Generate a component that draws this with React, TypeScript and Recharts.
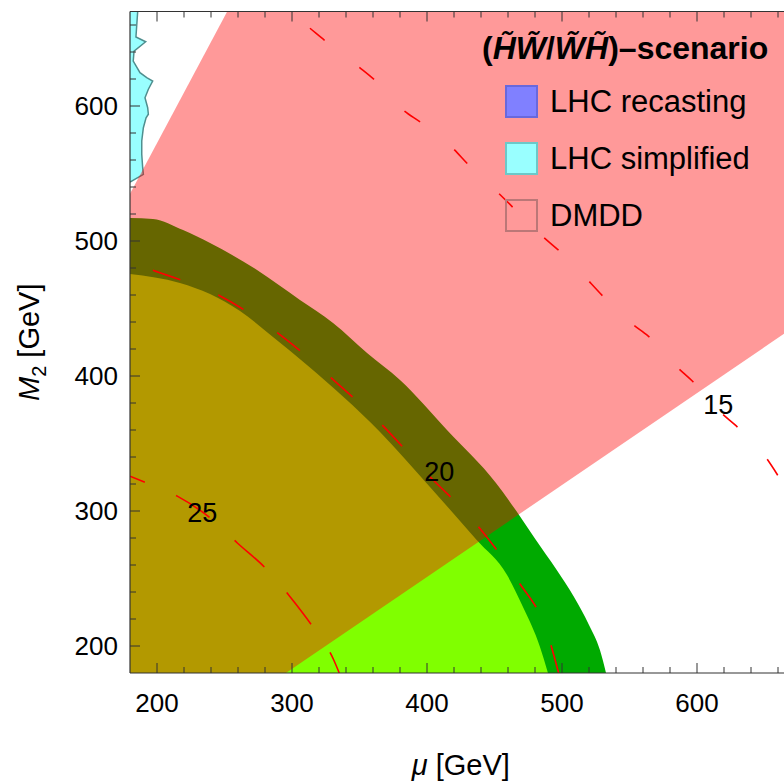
import {
  Area,
  ComposedChart,
  Line,
  ReferenceDot,
  XAxis,
  YAxis,
} from "recharts";

const FONT = '"Liberation Sans", Arial, Helvetica, sans-serif';
const FRAME = "#333333";
const RED = "#ff0000";

const AXIS_TICKS = [200, 220, 240, 260, 280, 300, 320, 340, 360, 380, 400, 420, 440, 460, 480, 500, 520, 540, 560, 580, 600, 620, 640, 660];

// outer edge of the dark green band (mu, M2 in GeV)
const OUTER_MU = [180, 197, 219.3, 239.3, 274.1, 305.9, 330.4, 355.6, 380, 414.8, 451.1, 466.7, 480.7, 495.6, 508.9, 520, 528.1, 532.6];
const OUTER_M2 = [517, 516.3, 508.1, 498.5, 478.5, 456.3, 439.3, 417, 397, 360, 320.7, 299.3, 278.5, 257, 236.3, 215.6, 197, 180];

// inner edge (bright green region)
const INNER_MU = [180, 217, 239.3, 261.5, 285.9, 311.1, 365.2, 402.2, 436.8, 459.3, 471.1, 483.7, 489.6];
const INNER_M2 = [475.6, 468.9, 460.7, 448.1, 428.9, 408.1, 358.5, 317.8, 278.5, 252.6, 228.9, 199.3, 180];

// DMDD wedge
const DMDD_MU = [180, 252, 295.5, 670];
const DMDD_LO = [180, 180, 180, 435];
const DMDD_HI = [535, 670, 670, 670];

// LHC simplified strip (edge mu as a function of M2)
const CYAN_M2 = [543.7, 549.4, 554.3, 564.2, 574.1, 583.9, 591.3, 593.9, 598.7, 606.1, 612.4, 618.5, 621, 624.7, 633.3, 640.7, 647.6, 651.1, 670];
const CYAN_MU = [180, 189.9, 189.4, 188.7, 188.7, 189.9, 191.9, 193.6, 193.1, 191.1, 193.6, 196.8, 192.4, 187.4, 182.4, 183, 191.6, 184.4, 185.7];

// dashed contours
const C25_MU = [180, 190.6, 215, 239.5, 259.5, 281, 298.7, 316.5, 330.6, 335];
const C25_M2 = [325.8, 321.5, 311, 294.8, 276.3, 257, 236.3, 212.6, 190.4, 180];
const C20_MU = [180, 196.5, 245.4, 288.4, 329.9, 366.1, 401.7, 436.5, 466.9, 489.1, 497.5];
const C20_M2 = [484.6, 478.5, 460, 432.6, 397.8, 364.4, 325.9, 290.4, 248.9, 209.6, 180];
const C15_MU = [298, 313.3, 324.1, 349.6, 361, 383.2, 395, 419.5, 429.9, 452.8, 486.1, 496.5, 552, 563.9, 586, 596.5, 618.8, 629.1, 651.3, 664, 670];
const C15_M2 = [670, 657.6, 648.7, 628.9, 619.5, 596.3, 588.1, 568.4, 557.3, 535.6, 503, 494, 438.5, 429.6, 405.9, 396.3, 371.9, 363, 339.3, 320, 311];

const CONTOUR_LABELS = [
  { mu: 233.6, m2: 299.3, text: "25" },
  { mu: 409.1, m2: 329.6, text: "20" },
  { mu: 615.8, m2: 379.3, text: "15" },
];

const LEGEND_ITEMS = [
  { name: "LHC recasting", fill: "#8080ff", border: "#6868dc" },
  { name: "LHC simplified", fill: "#99ffff", border: "#6cc8c8" },
  { name: "DMDD", fill: "transparent", border: "#bb7777" },
];

const pts = (mu: number[], m2: number[]) => mu.map((m, i) => ({ mu: m, v: m2[i] }));

const outerData = pts(OUTER_MU, OUTER_M2);
const innerData = pts(INNER_MU, INNER_M2);
const dmddData = DMDD_MU.map((m, i) => ({ mu: m, range: [DMDD_LO[i], DMDD_HI[i]] }));
const cyanData = CYAN_M2.map((m, i) => ({ m2: m, mu: CYAN_MU[i] }));

const W = 800;
const H = 784;

function BottomTick(props: any) {
  const { x, y, payload } = props;
  const major = payload.value % 100 === 0;
  return (
    <g>
      <line x1={x} x2={x} y1={y} y2={y - (major ? 10 : 6)} stroke={FRAME} strokeWidth={1} />
      {major && (
        <text x={x} y={y + 39} textAnchor="middle" fontSize={26} fontFamily={FONT} fill="#000">
          {payload.value}
        </text>
      )}
    </g>
  );
}

function TopTick(props: any) {
  const { x, y, payload } = props;
  const major = payload.value % 100 === 0;
  return <line x1={x} x2={x} y1={y} y2={y + (major ? 10 : 6)} stroke={FRAME} strokeWidth={1} />;
}

function LeftTick(props: any) {
  const { x, y, payload } = props;
  const major = payload.value % 100 === 0;
  return (
    <g>
      <line x1={x} x2={x + (major ? 10 : 6)} y1={y} y2={y} stroke={FRAME} strokeWidth={1} />
      {major && (
        <text x={x - 12} y={y + 9} textAnchor="end" fontSize={26} fontFamily={FONT} fill="#000">
          {payload.value}
        </text>
      )}
    </g>
  );
}

function XTitle(props: any) {
  const vb = props.viewBox;
  return (
    <text x={vb.x + vb.width / 2} y={vb.y + 102} textAnchor="middle" fontSize={29} fontFamily={FONT} fill="#000">
      <tspan fontStyle="italic">μ</tspan>
      <tspan> [GeV]</tspan>
    </text>
  );
}

function YTitle(props: any) {
  const vb = props.viewBox;
  const cx = vb.x + 39;
  const cy = vb.y + vb.height / 2;
  return (
    <text transform={`translate(${cx},${cy}) rotate(-90)`} textAnchor="middle" fontSize={29} fontFamily={FONT} fill="#000">
      <tspan fontStyle="italic">M</tspan>
      <tspan fontSize={20} dy={7}>2</tspan>
      <tspan dy={-7}> [GeV]</tspan>
    </text>
  );
}

function ContourLabel(text: string) {
  return (p: any) => (
    <text x={p.cx} y={p.cy + 10} textAnchor="middle" fontSize={27} fontFamily={FONT} fill="#000">
      {text}
    </text>
  );
}

export default function App() {
  return (
    <div style={{ position: "absolute", left: 0, top: 0, width: 784, height: 784, overflow: "hidden", background: "#fff" }}>
      {/* LHC simplified strip, drawn in a vertical-layout chart so the edge can be a function of M2 */}
      <div style={{ position: "absolute", left: 0, top: 0 }}>
        <ComposedChart layout="vertical" width={W} height={H} data={cyanData} margin={{ top: 11.5, right: 8.5, bottom: 111, left: 130 }}>
          <XAxis type="number" domain={[180, 670]} allowDataOverflow hide />
          <YAxis type="number" dataKey="m2" domain={[180, 670]} allowDataOverflow hide reversed />
          <Area dataKey="mu" type="linear" fill="#99ffff" fillOpacity={1} stroke="#4f8f8f" strokeWidth={1.5} baseValue="dataMin" isAnimationActive={false} />
        </ComposedChart>
      </div>

      <div style={{ position: "absolute", left: 0, top: 0 }}>
        <ComposedChart width={W} height={H} margin={{ top: 1.5, right: 8.5, bottom: 0, left: 0 }}>
          <Area data={outerData} dataKey="v" type="monotone" fill="#00aa00" fillOpacity={1} stroke="none" baseValue="dataMin" isAnimationActive={false} />
          <Area data={innerData} dataKey="v" type="monotone" fill="#80ff00" fillOpacity={1} stroke="none" baseValue="dataMin" isAnimationActive={false} />
          <Area data={dmddData} dataKey="range" type="linear" fill="#ff0000" fillOpacity={0.4} stroke="none" isAnimationActive={false} />

          <Line data={pts(C25_MU, C25_M2)} dataKey="v" type="monotone" stroke={RED} strokeWidth={1.6} strokeDasharray="40 34" strokeDashoffset={24} dot={false} isAnimationActive={false} />
          <Line data={pts(C20_MU, C20_M2)} dataKey="v" type="monotone" stroke={RED} strokeWidth={1.6} strokeDasharray="29 41" strokeDashoffset={45.6} dot={false} isAnimationActive={false} />
          <Line data={pts(C15_MU, C15_M2)} dataKey="v" type="monotone" stroke={RED} strokeWidth={1.6} strokeDasharray="19 44" strokeDashoffset={36.4} dot={false} isAnimationActive={false} />

          {CONTOUR_LABELS.map((l) => (
            <ReferenceDot key={l.text} x={l.mu} y={l.m2} r={0} shape={ContourLabel(l.text)} />
          ))}

          <XAxis
            dataKey="mu"
            type="number"
            domain={[180, 670]}
            allowDataOverflow
            ticks={AXIS_TICKS}
            interval={0}
            tick={<BottomTick />}
            tickLine={false}
            tickSize={0}
            tickMargin={0}
            axisLine={{ stroke: FRAME, strokeWidth: 1.2 }}
            height={111}
            label={{ content: <XTitle /> }}
          />
          <XAxis
            xAxisId="top"
            orientation="top"
            dataKey="mu"
            type="number"
            domain={[180, 670]}
            allowDataOverflow
            ticks={AXIS_TICKS}
            interval={0}
            tick={<TopTick />}
            tickLine={false}
            tickSize={0}
            tickMargin={0}
            axisLine={{ stroke: FRAME, strokeWidth: 1.2 }}
            height={10}
          />
          <YAxis
            type="number"
            domain={[180, 670]}
            allowDataOverflow
            ticks={AXIS_TICKS}
            interval={0}
            tick={<LeftTick />}
            tickLine={false}
            tickSize={0}
            tickMargin={0}
            axisLine={{ stroke: FRAME, strokeWidth: 1.2 }}
            width={130}
            label={{ content: <YTitle /> }}
          />
        </ComposedChart>
      </div>

      <div style={{ position: "absolute", left: 0, top: 0, width: 784, height: 784, pointerEvents: "none", fontFamily: FONT, color: "#000" }}>
        <div style={{ position: "absolute", left: 482, top: 28, fontSize: 32, fontWeight: "bold", lineHeight: "40px", whiteSpace: "nowrap" }}>
          (<i>H&#x303;W&#x303;</i>/<i>W&#x303;H&#x303;</i>)–scenario
        </div>
        {LEGEND_ITEMS.map((item, i) => (
          <div key={item.name}>
            <div
              style={{
                position: "absolute",
                left: 505,
                top: 85 + i * 57,
                width: 33,
                height: 33,
                boxSizing: "border-box",
                background: item.fill,
                border: `2px solid ${item.border}`,
              }}
            />
            <div style={{ position: "absolute", left: 550, top: 82 + i * 57, fontSize: 31, lineHeight: "40px", whiteSpace: "nowrap" }}>
              {item.name}
            </div>
          </div>
        ))}
      </div>
    </div>
  );
}
